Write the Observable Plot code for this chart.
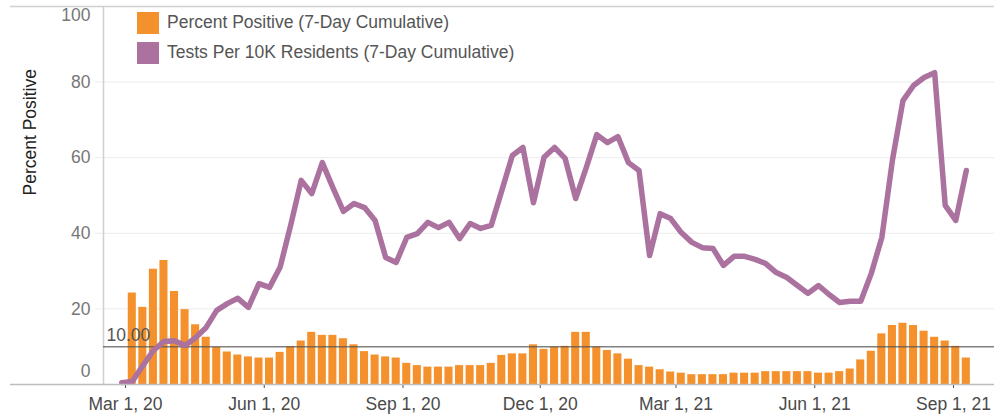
<!DOCTYPE html>
<html><head><meta charset="utf-8">
<script src="https://cdn.jsdelivr.net/npm/d3@7"></script>
<script src="https://cdn.jsdelivr.net/npm/@observablehq/plot@0.6"></script>
<style>
body{margin:0;background:#fff;font-family:"Liberation Sans",Arial,sans-serif;}
#wrap{position:relative;width:994px;height:418px;}
.legend{position:absolute;left:137px;top:7.5px;font-size:17.5px;color:#555;}
.item{display:flex;align-items:center;height:30px;}
.sw{width:22px;height:22px;margin-right:8px;}
</style></head><body><div id="wrap"></div>
<script>
// Weekly series
const barStart = "2020-03-05";   // first week of Percent Positive bars
const lineStart = "2020-02-27";  // first week of Tests line
const percentPositive = [
  24.2, 20.4, 30.5, 32.8, 24.6, 19.8, 15.8, 12.5, 9.8, 8.6,
  7.8, 7.3, 7.0, 7.0, 8.5, 10.0, 11.5, 13.8, 13.0, 13.0,
  12.1, 10.5, 8.7, 7.8, 7.3, 7.0, 5.6, 5.0, 4.6, 4.6,
  4.6, 5.0, 5.0, 5.0, 5.6, 7.7, 8.1, 8.1, 10.5, 9.3,
  9.9, 10.1, 13.8, 13.8, 9.9, 9.0, 8.1, 6.7, 5.0, 4.6,
  3.9, 3.3, 3.0, 2.6, 2.6, 2.6, 2.6, 3.0, 3.0, 3.0,
  3.4, 3.4, 3.4, 3.4, 3.4, 3.0, 3.0, 3.4, 4.1, 6.5,
  8.8, 13.4, 15.6, 16.2, 15.6, 14.1, 12.5, 11.5, 10.1, 7.0
];
const testsPer10K = [
  0.5,
  0.8, 5.0, 9.0, 11.4, 11.6, 10.3, 12.4, 15.1, 19.6, 21.4,
  22.8, 20.4, 26.7, 25.7, 31.0, 42.1, 54.0, 50.5, 58.7, 52.1,
  45.8, 47.9, 46.8, 43.4, 33.6, 32.3, 38.9, 39.9, 42.9, 41.5,
  42.9, 38.6, 42.6, 41.3, 42.1, 51.3, 60.6, 62.7, 48.1, 60.1,
  62.7, 59.8, 49.2, 57.4, 66.1, 64.0, 65.6, 58.7, 56.6, 34.1,
  45.2, 43.9, 40.2, 37.6, 36.2, 36.0, 31.5, 33.9, 33.9, 33.1,
  32.0, 29.6, 28.3, 26.2, 24.1, 26.2, 23.8, 21.7, 22.0, 22.0,
  29.4, 38.9, 59.3, 75.1, 79.1, 81.2, 82.5, 47.4, 43.4, 56.6
];
const xTickLabels = ["2020-03-01","2020-06-01","2020-09-01","2020-12-01","2021-03-01","2021-06-01","2021-09-01"];
const yTicks = [0, 20, 40, 60, 80, 100];
const threshold = 10;
const seriesNames = ["Percent Positive (7-Day Cumulative)", "Tests Per 10K Residents (7-Day Cumulative)"];
const colors = ["#f4912c", "#ab729f"];

const weekOf = (start, i) => d3.utcDay.offset(new Date(start + "T00:00:00Z"), 7 * i);
const bars = percentPositive.map((v, i) => ({date: weekOf(barStart, i), v}));
const line = testsPer10K.map((v, i) => ({date: d3.utcHour.offset(weekOf(lineStart, i), 12), v}));
const xTicks = xTickLabels.map(s => new Date(s + "T00:00:00Z"));
const xDomain = [new Date("2020-02-15T10:00:00Z"), new Date("2021-09-28T04:30:00Z")];

const plot = Plot.plot({
  width: 994, height: 418,
  marginLeft: 103, marginRight: 0, marginTop: 6, marginBottom: 34,
  style: {fontFamily: "'Liberation Sans', Arial, sans-serif", fontSize: "17.5px", background: "#fff", color: "#4a4a4a", overflow: "visible"},
  x: {type: "utc", domain: xDomain, ticks: xTicks, tickFormat: d3.utcFormat("%b %-d, %y"), tickSize: 4, tickPadding: 9, label: null},
  y: {domain: [0, 100], axis: null},
  marks: [
    Plot.ruleY(yTicks.filter(d => d > 0 && d < 100), {stroke: "#ececec", insetLeft: -8}),
    Plot.ruleY([100], {stroke: "#cfcfcf", strokeWidth: 1.5, insetLeft: -93}),
    Plot.ruleX([xDomain[0]], {stroke: "#cfcfcf", strokeWidth: 1.5}),
    Plot.rectY(bars, {x1: d => d3.utcDay.offset(d.date, -3), x2: d => d3.utcDay.offset(d.date, 4), y: "v", fill: colors[0], insetLeft: 1.25, insetRight: 1.25}),
    Plot.ruleY([threshold], {stroke: "#555", strokeOpacity: 0.75, strokeWidth: 1.5}),
    Plot.text([threshold], {y: d => d, text: d => d.toFixed(2), frameAnchor: "left", textAnchor: "start", dx: 3, dy: -11, fill: "#555"}),
    Plot.line(line, {x: "date", y: "v", stroke: colors[1], strokeWidth: 5.5, strokeLinejoin: "round", strokeLinecap: "round"}),
    Plot.ruleY([0], {stroke: "#bdbdbd", strokeWidth: 1.5, insetLeft: -93}),
    Plot.text(yTicks.filter(d => d > 0 && d < 100), {y: d => d, text: d => String(d), frameAnchor: "left", textAnchor: "end", dx: -13, fill: "#777"}),
    Plot.text([100], {y: d => d, text: d => String(d), frameAnchor: "left", textAnchor: "end", dx: -13, dy: 9, fill: "#777"}),
    Plot.text([0], {y: d => d, text: d => String(d), frameAnchor: "left", textAnchor: "end", dx: -13, dy: -13, fill: "#777"}),
    Plot.text(["Percent Positive"], {frameAnchor: "left", dx: -73, rotate: -90, fill: "#222"})
  ]
});
const wrap = document.getElementById("wrap");
wrap.appendChild(plot);
const legend = document.createElement("div");
legend.className = "legend";
legend.innerHTML = seriesNames.map((n, i) => `<div class="item"><span class="sw" style="background:${colors[i]}"></span><span>${n}</span></div>`).join("");
wrap.appendChild(legend);
</script></body></html>
